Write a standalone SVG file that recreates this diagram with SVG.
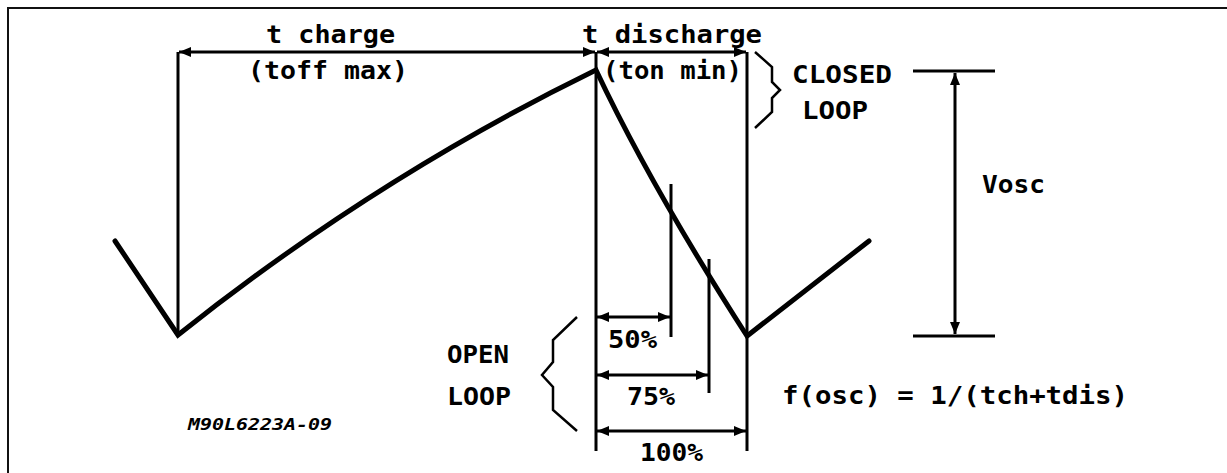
<svg xmlns="http://www.w3.org/2000/svg" width="1227" height="473" viewBox="0 0 1227 473">
<style>
.t{font-family:"DejaVu Sans Mono","Liberation Mono",monospace;font-weight:bold;font-size:24px;fill:#000}
.w{fill:none;stroke:#000;stroke-width:5;stroke-linejoin:miter;stroke-linecap:round}
.l{fill:none;stroke:#000;stroke-width:3}
.a{fill:none;stroke:#000;stroke-width:3;marker-start:url(#ah);marker-end:url(#ah)}
.b{fill:none;stroke:#000;stroke-width:2.5;stroke-linejoin:miter}
</style>
<defs>
<marker id="ah" viewBox="0 0 12 10" refX="12" refY="5" markerWidth="12" markerHeight="10" markerUnits="userSpaceOnUse" orient="auto-start-reverse">
<path d="M0,0 L12,5 L0,10 Z" fill="#000"/>
</marker>
</defs>
<rect width="1227" height="473" fill="#fff"/>
<g id="frame"><path d="M8,473 V8 H1227" fill="none" stroke="#111" stroke-width="2"/></g>
<g id="waveform">
<path class="w" d="M115,241 L178,335 Q375,178 596,70 Q650,185 747,336 L869,241"/>
</g>
<g id="connectors">
<line class="l" x1="178" y1="52" x2="178" y2="335"/>
<line class="l" x1="596" y1="52" x2="596" y2="451"/>
<line class="l" x1="747" y1="52" x2="747" y2="451"/>
<line class="l" x1="671" y1="184" x2="671" y2="337"/>
<line class="l" x1="709" y1="259" x2="709" y2="393"/>
<line class="a" x1="179" y1="52" x2="595" y2="52"/>
<line class="a" x1="597" y1="52" x2="746" y2="52"/>
<line class="a" x1="597" y1="317" x2="670" y2="317"/>
<line class="a" x1="597" y1="375" x2="708" y2="375"/>
<line class="a" x1="597" y1="431" x2="746" y2="431"/>
<line class="l" x1="913" y1="71" x2="995" y2="71"/>
<line class="l" x1="913" y1="336" x2="995" y2="336"/>
<line class="a" x1="955" y1="73" x2="955" y2="334"/>
</g>
<g id="closed-loop">
<polyline class="b" points="755,52 772,67 772,82 780,90 772,98 772,112 755,128"/>
<text class="t" x="792" y="83" textLength="100" lengthAdjust="spacingAndGlyphs">CLOSED</text>
<text class="t" x="802" y="119" textLength="66" lengthAdjust="spacingAndGlyphs">LOOP</text>
</g>
<g id="open-loop">
<polyline class="b" points="577,317 553,340 553,362 542,375 553,387 553,410 577,431"/>
<text class="t" x="447" y="363" textLength="62" lengthAdjust="spacingAndGlyphs">OPEN</text>
<text class="t" x="447" y="405" textLength="64" lengthAdjust="spacingAndGlyphs">LOOP</text>
</g>
<g id="labels">
<text class="t" x="266" y="43" textLength="129" lengthAdjust="spacingAndGlyphs">t charge</text>
<text class="t" x="248" y="79" textLength="160" lengthAdjust="spacingAndGlyphs">(toff max)</text>
<text class="t" x="582" y="43" textLength="180" lengthAdjust="spacingAndGlyphs">t discharge</text>
<text class="t" x="603" y="79" textLength="139" lengthAdjust="spacingAndGlyphs">(ton min)</text>
<text class="t" x="982" y="193" textLength="63" lengthAdjust="spacingAndGlyphs">Vosc</text>
<text class="t" x="608" y="348" textLength="49" lengthAdjust="spacingAndGlyphs">50%</text>
<text class="t" x="627" y="405" textLength="48" lengthAdjust="spacingAndGlyphs">75%</text>
<text class="t" x="640" y="461" textLength="63" lengthAdjust="spacingAndGlyphs">100%</text>
<text class="t" x="782" y="404" textLength="346" lengthAdjust="spacingAndGlyphs">f(osc) = 1/(tch+tdis)</text>
<text class="t" x="188" y="430" textLength="144" lengthAdjust="spacingAndGlyphs" style="font-size:16px;font-style:italic">M90L6223A-09</text>
</g>
</svg>
